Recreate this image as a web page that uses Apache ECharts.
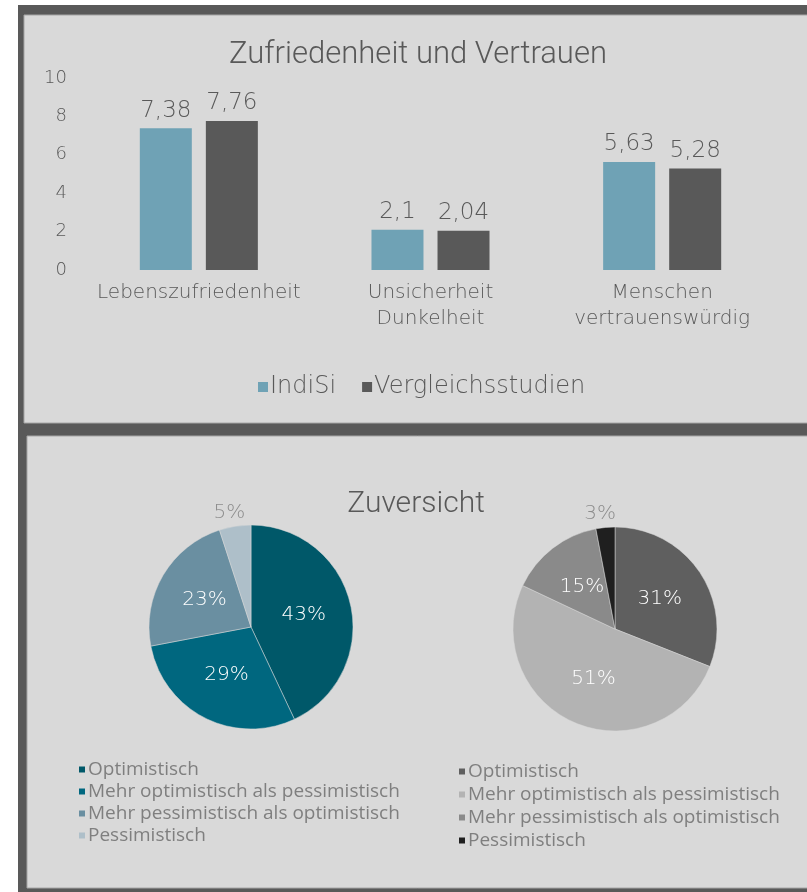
<!DOCTYPE html>
<html>
<head>
<meta charset="utf-8">
<script src="https://cdn.jsdelivr.net/npm/echarts@6/dist/echarts.min.js"></script>
<style>
  html, body { margin: 0; padding: 0; background: #fff; }
  #chart { width: 807px; height: 892px; }
</style>
</head>
<body>
<div id="chart"></div>
<script>
// bar chart data
const barCategories = ['Lebenszufriedenheit', 'Unsicherheit\nDunkelheit', 'Menschen\nvertrauenswürdig']
const seriesNames = ['IndiSi', 'Vergleichsstudien']
const indisiValues = [7.38, 2.1, 5.63]
const vergleichValues = [7.76, 2.04, 5.28]

// pie data
const pieCategories = ['Optimistisch', 'Mehr optimistisch als pessimistisch', 'Mehr pessimistisch als optimistisch', 'Pessimistisch']
const indisiPie = [43, 29, 23, 5]
const vergleichPie = [31, 51, 15, 3]

const FONT = 'Roboto'
const WIDE = 'DejaVu Sans'
const barColors = ['#6fa2b5', '#595959']
const pieColorsLeft = ['#005869', '#00677f', '#6a8fa1', '#aebfc9']
const pieColorsRight = ['#5f5f5f', '#b3b3b3', '#8a8a8a', '#1f1f1f']

const fmt = v => String(v).replace('.', ',')

function pieData(values, colors, prefix) {
  return values.map((v, i) => {
    const item = {
      name: prefix + pieCategories[i],
      value: v,
      itemStyle: { color: colors[i] }
    }
    if (i === values.length - 1) {
      item.label = { position: 'outside', color: '#8c8c8c' }
    }
    return item
  })
}

// small outside labels sit centred just above their slice
function pieLabelLayout(p) {
  if (p.dataIndex === 3) return { align: 'center', verticalAlign: 'bottom' }
}

const chart = echarts.init(document.getElementById('chart'))

const pieLabel = { show: true, position: 'inside', formatter: '{c}%', fontFamily: WIDE, fontWeight: 200, fontSize: 20, color: '#ffffff' }

const option = {
  backgroundColor: '#ffffff',
  animation: false,
  textStyle: { fontFamily: FONT },
  graphic: [
    { type: 'rect', shape: { x: 18, y: 5, width: 789, height: 887 }, style: { fill: '#595959' }, silent: true },
    { type: 'rect', shape: { x: 24, y: 15, width: 790, height: 408 }, style: { fill: '#d9d9d9', stroke: '#a6a6a6', lineWidth: 1 }, silent: true },
    { type: 'rect', shape: { x: 27, y: 436, width: 790, height: 452 }, style: { fill: '#d9d9d9', stroke: '#a6a6a6', lineWidth: 1 }, silent: true }
  ],
  title: [
    {
      text: 'Zufriedenheit und Vertrauen',
      left: 413, top: 35, textAlign: 'center',
      textStyle: { fontFamily: FONT, fontSize: 31, fontWeight: 300, color: '#595959' }
    },
    {
      text: 'Zuversicht',
      left: 411, top: 484, textAlign: 'center',
      textStyle: { fontFamily: FONT, fontSize: 30, fontWeight: 300, color: '#595959' }
    }
  ],
  legend: [
    {
      data: seriesNames,
      left: 253, top: 370,
      icon: 'rect', itemWidth: 10, itemHeight: 10, itemGap: 26,
      textStyle: { fontFamily: WIDE, fontWeight: 200, fontSize: 24, color: '#595959', padding: [0, 0, 0, -3] }
    },
    {
      data: pieCategories.map(c => 'L ' + c),
      formatter: n => n.slice(2),
      orient: 'vertical',
      left: 72, top: 755,
      icon: 'rect', itemWidth: 8, itemHeight: 8, itemGap: 3,
      textStyle: { fontFamily: 'Open Sans', fontSize: 19, color: '#7f7f7f', padding: [0, 0, 0, -3] }
    },
    {
      data: pieCategories.map(c => 'R ' + c),
      formatter: n => n.slice(2),
      orient: 'vertical',
      left: 452, top: 757,
      icon: 'rect', itemWidth: 8, itemHeight: 8, itemGap: 4,
      textStyle: { fontFamily: 'Open Sans', fontSize: 19, color: '#7f7f7f', padding: [0, 0, 0, -3] }
    }
  ],
  grid: { left: 83, right: 29, top: 78, height: 192, containLabel: false },
  xAxis: {
    type: 'category',
    data: barCategories,
    axisLine: { show: false },
    axisTick: { show: false },
    axisLabel: { interval: 0, fontFamily: WIDE, fontWeight: 200, fontSize: 20, color: '#595959', lineHeight: 26, margin: 10 }
  },
  yAxis: {
    type: 'value',
    min: 0, max: 10, interval: 2,
    splitLine: { show: false },
    axisLine: { show: false },
    axisLabel: { fontFamily: WIDE, fontWeight: 200, fontSize: 18, color: '#595959', margin: 16 }
  },
  series: [
    {
      name: seriesNames[0], type: 'bar', data: indisiValues,
      barWidth: 52, barGap: '27%',
      itemStyle: { color: barColors[0] },
      label: { show: true, position: 'top', distance: 6, formatter: p => fmt(p.value), fontFamily: WIDE, fontWeight: 200, fontSize: 23, color: '#595959' }
    },
    {
      name: seriesNames[1], type: 'bar', data: vergleichValues,
      barWidth: 52,
      itemStyle: { color: barColors[1] },
      label: { show: true, position: 'top', distance: 6, formatter: p => fmt(p.value), fontFamily: WIDE, fontWeight: 200, fontSize: 23, color: '#595959' }
    },
    {
      type: 'pie', name: 'IndiSi',
      center: [251, 627], radius: 102,
      startAngle: 90, clockwise: true,
      avoidLabelOverlap: false,
      itemStyle: { borderColor: '#d9d9d9', borderWidth: 0.5 },
      label: pieLabel,
      labelLine: { show: false, length: 4, length2: 0 },
      labelLayout: pieLabelLayout,
      data: pieData(indisiPie, pieColorsLeft, 'L ')
    },
    {
      type: 'pie', name: 'Vergleichsstudien',
      center: [615, 629], radius: 102,
      startAngle: 90, clockwise: true,
      avoidLabelOverlap: false,
      itemStyle: { borderColor: '#d9d9d9', borderWidth: 0.5 },
      label: pieLabel,
      labelLine: { show: false, length: 4, length2: 0 },
      labelLayout: pieLabelLayout,
      data: pieData(vergleichPie, pieColorsRight, 'R ')
    }
  ]
}

chart.setOption(option)
</script>
</body>
</html>
